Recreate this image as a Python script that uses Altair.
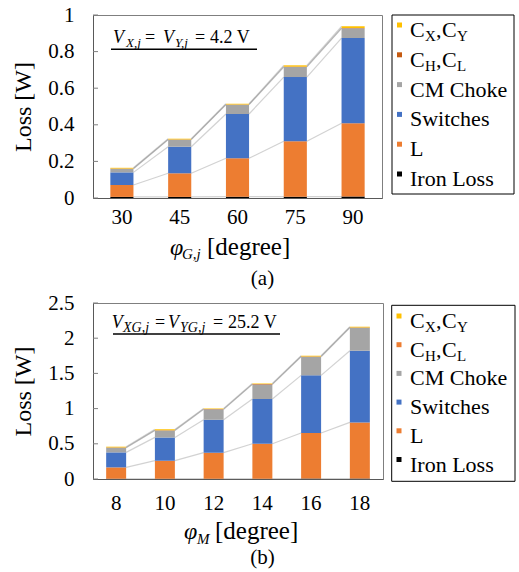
import altair as alt
import numpy as np
import pandas as pd

FONT = "'Liberation Serif', 'Times New Roman', Times, serif"

# ---------------- data: panel (a) ----------------
angles_a = ["30", "45", "60", "75", "90"]
iron_a = [0.006, 0.006, 0.007, 0.007, 0.008]
l_a = [0.065, 0.129, 0.210, 0.303, 0.400]
sw_a = [0.069, 0.145, 0.242, 0.351, 0.466]
cm_a = [0.020, 0.039, 0.051, 0.055, 0.053]
ch_a = [0.001, 0.001, 0.001, 0.002, 0.002]
cx_a = [0.004, 0.004, 0.004, 0.007, 0.009]
yticks_a = [0, 0.2, 0.4, 0.6, 0.8, 1]

# ---------------- data: panel (b) ----------------
angles_b = ["8", "10", "12", "14", "16", "18"]
iron_b = [0.004, 0.004, 0.005, 0.005, 0.006, 0.006]
l_b = [0.161, 0.256, 0.369, 0.496, 0.647, 0.798]
sw_b = [0.213, 0.331, 0.468, 0.635, 0.819, 1.018]
cm_b = [0.067, 0.099, 0.147, 0.208, 0.265, 0.327]
ch_b = [0.004, 0.004, 0.004, 0.004, 0.004, 0.004]
cx_b = [0.010, 0.011, 0.010, 0.010, 0.010, 0.010]
yticks_b = [0, 0.5, 1, 1.5, 2, 2.5]

series_names = ["Iron Loss", "L", "Switches", "CM Choke", "CH, CL", "CX, CY"]
colors_a = ["#000000", "#ED7D31", "#4472C4", "#A5A5A5", "#C55A11", "#FFC000"]
colors_b = ["#000000", "#ED7D31", "#4472C4", "#A5A5A5", "#ED7D31", "#FFC000"]

# legend label pieces (text, subscript?) for each series
legend_labels = {
    "CX, CY": [("C", False), ("X", True), (",", False), ("C", False), ("Y", True)],
    "CH, CL": [("C", False), ("H", True), (",", False), ("C", False), ("L", True)],
    "CM Choke": [("CM Choke", False)],
    "Switches": [("Switches", False)],
    "L": [("L", False)],
    "Iron Loss": [("Iron Loss", False)],
}

ONE = alt.Data(values=[{"a": 1}])


def txt(s, x, y, size, italic=False, align="left"):
    return alt.Chart(ONE).mark_text(
        text=s, font=FONT, fontSize=size, fontStyle="italic" if italic else "normal",
        align=align, baseline="alphabetic", color="black"
    ).encode(x=alt.value(x), y=alt.value(y))


def panel(cats, vals, colors, yticks, ymax, W, H, pin, pout, xlabpad,
          ann, ann_line, xtitle, cap, leg_box, leg_sym_x, leg_txt_x, leg_base0, leg_step):
    rows = []
    for si, (name, v) in enumerate(zip(series_names, vals)):
        for c, val in zip(cats, v):
            rows.append(dict(cat=c, series=name, value=val, ord=si))
    df = pd.DataFrame(rows)

    xscale = alt.Scale(domain=cats, paddingInner=pin, paddingOuter=pout)
    yscale = alt.Scale(domain=[0, ymax], nice=False)
    xaxis = alt.Axis(title=None, labelAngle=0, ticks=False, labelFont=FONT, labelFontSize=21,
                     labelColor="black", labelPadding=xlabpad, domainColor="#595959")
    yaxis = alt.Axis(title="Loss [W]", values=yticks, format="~g", ticks=False, grid=False,
                     labelFont=FONT, labelFontSize=21, labelColor="black", labelPadding=19,
                     titleFont=FONT, titleFontSize=24, titleFontWeight="normal",
                     titleColor="black", titlePadding=12, domainColor="#595959")

    bars = alt.Chart(df).mark_bar().encode(
        x=alt.X("cat:N", scale=xscale, axis=xaxis, title=None),
        y=alt.Y("value:Q", stack="zero", scale=yscale, axis=yaxis),
        color=alt.Color("series:N", scale=alt.Scale(domain=series_names, range=colors), legend=None),
        order=alt.Order("ord:Q"),
    )

    cum = np.cumsum(np.array(vals), axis=0)
    seg = []
    for s in range(len(series_names)):
        for i in range(len(cats) - 1):
            seg.append(dict(c0=cats[i], c1=cats[i + 1], y0=float(cum[s, i]), y1=float(cum[s, i + 1])))
    lines = alt.Chart(pd.DataFrame(seg)).mark_rule(color="#7f7f7f", opacity=0.35, strokeWidth=1.2).encode(
        x=alt.X("c0:N", scale=xscale, axis=xaxis, bandPosition=1, title=None),
        x2=alt.X2("c1:N", bandPosition=0),
        y=alt.Y("y0:Q", scale=yscale, axis=yaxis),
        y2="y1:Q",
    )

    ticks = alt.Chart(pd.DataFrame({"t": yticks})).mark_rule(color="#7f7f7f").encode(
        y=alt.Y("t:Q", scale=yscale, axis=yaxis), x=alt.value(0), x2=alt.value(5)
    )

    layers = [lines, bars, ticks]

    # annotation
    for (s, x, y, size, it) in ann:
        layers.append(txt(s, x, y, size, it))
    ux0, ux1, uy = ann_line
    layers.append(alt.Chart(ONE).mark_rule(color="black", strokeWidth=1.5).encode(
        x=alt.value(ux0), x2=alt.value(ux1), y=alt.value(uy)))

    # x-axis title pieces
    for (s, x, y, size, it) in xtitle:
        layers.append(txt(s, x, y, size, it))
    # caption
    cs, cx, cy, csize = cap
    layers.append(txt(cs, cx, cy, csize, False, "center"))

    # legend
    bx0, bx1, by0, by1 = leg_box
    layers.append(alt.Chart(ONE).mark_rect(fillOpacity=0, stroke="black", strokeWidth=1).encode(
        x=alt.value(bx0), x2=alt.value(bx1), y=alt.value(by0), y2=alt.value(by1)))
    order_top_down = list(reversed(list(zip(series_names, colors))))
    sub_offsets = [0, 15, 26, 32, 47]
    for i, (name, col) in enumerate(order_top_down):
        base = leg_base0 + leg_step * i
        layers.append(alt.Chart(ONE).mark_square(size=25, color=col, opacity=1).encode(
            x=alt.value(leg_sym_x), y=alt.value(base - 12)))
        pieces = legend_labels[name]
        if len(pieces) == 1:
            layers.append(txt(pieces[0][0], leg_txt_x, base, 22))
        else:
            for (s, sub), off in zip(pieces, sub_offsets):
                if sub:
                    layers.append(txt(s, leg_txt_x + off, base + 4, 15))
                else:
                    layers.append(txt(s, leg_txt_x + off, base, 22))

    return alt.layer(*layers).properties(width=W, height=H)


panel_a = panel(
    angles_a, [iron_a, l_a, sw_a, cm_a, ch_a, cx_a], colors_a, yticks_a, 1.0, 289, 183, 0.6, 0.3, 8,
    ann=[("V", 20, 27.7, 18, True), ("X,j", 33, 31.5, 13, True), ("=", 52, 27.7, 18, False),
         ("V", 70, 27.7, 18, True), ("Y,j", 82, 31.5, 13, True), ("=", 102, 27.7, 18, False),
         ("4.2 V", 117, 27.7, 18, False)],
    ann_line=(18, 164, 34.3),
    xtitle=[("φ", 77, 240, 24, True), ("G,j", 89, 244, 15, True), ("[degree]", 114, 240, 25, False)],
    cap=("(a)", 169.5, 270, 21),
    leg_box=(299, 421, 0, 179), leg_sym_x=306.5, leg_txt_x=317, leg_base0=22, leg_step=29.8,
)

panel_b = panel(
    angles_b, [iron_b, l_b, sw_b, cm_b, ch_b, cx_b], colors_b, yticks_b, 2.5, 290, 176, 0.59, 0.27, 13,
    ann=[("V", 18.7, 25, 18, True), ("XG,j", 30, 29, 14, True), ("=", 62, 25, 18, False),
         ("V", 75, 25, 18, True), ("YG,j", 87, 29, 14, True), ("=", 120, 25, 18, False),
         ("25.2 V", 135, 25, 18, False)],
    ann_line=(20, 187, 31),
    xtitle=[("φ", 91, 236.3, 24, True), ("M", 104, 241, 15, True), ("[degree]", 122, 236.3, 25, False)],
    cap=("(b)", 169.5, 261.3, 21),
    leg_box=(298.7, 422, 2.3, 178.3), leg_sym_x=306, leg_txt_x=317, leg_base0=25, leg_step=28.7,
)

chart = alt.vconcat(panel_a, panel_b, spacing=1).configure_view(
    stroke="#7f7f7f"
).properties(
    padding={"left": 11, "top": 3, "right": 0, "bottom": 0},
    background="white",
)

chart.save("out.html", embed_options={"renderer": "svg", "actions": False})
